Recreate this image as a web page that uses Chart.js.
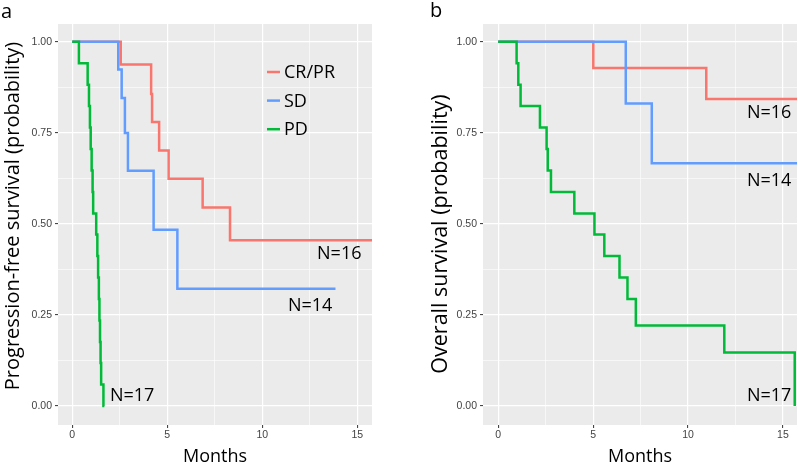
<!DOCTYPE html>
<html>
<head>
<meta charset="utf-8">
<script src="https://cdn.jsdelivr.net/npm/chart.js@4.4.1/dist/chart.umd.min.js"></script>
<style>
  html, body { margin: 0; padding: 0; background: #fff; }
  #wrap { position: relative; width: 798px; height: 464px; }
  .panel { position: absolute; top: 0; height: 464px; }
  #panel-a { left: 0; width: 400px; }
  #panel-b { left: 400px; width: 398px; }
</style>
</head>
<body>
<div id="wrap">
  <div class="panel" id="panel-a"><canvas id="chart-a"></canvas></div>
  <div class="panel" id="panel-b"><canvas id="chart-b"></canvas></div>
</div>
<script>
const GROUPS = ['CR/PR', 'SD', 'PD'];
const GROUP_SIZES = [16, 14, 17];
const X_TICKS = [0, 5, 10, 15];
const Y_TICKS = [0, 0.25, 0.5, 0.75, 1];

// panel a: progression-free survival, months / survival probability
const PFS_CRPR_MONTHS = [0, 2.55, 4.15, 4.2, 4.57, 5.07, 6.86, 8.3, 15.8];
const PFS_CRPR_SURV = [1, 0.9375, 0.857, 0.78, 0.702, 0.624, 0.545, 0.455, 0.455];
const PFS_SD_MONTHS = [0, 2.42, 2.6, 2.77, 2.93, 4.28, 5.53, 13.85];
const PFS_SD_SURV = [1, 0.924, 0.846, 0.75, 0.646, 0.484, 0.322, 0.322];
const PFS_PD_MONTHS = [0, 0.35, 0.81, 0.88, 0.93, 0.97, 1.02, 1.07, 1.1, 1.26, 1.32, 1.36, 1.4, 1.43, 1.46, 1.49, 1.52, 1.64, 1.69];
const PFS_PD_SURV = [1, 0.941, 0.882, 0.824, 0.765, 0.706, 0.647, 0.588, 0.529, 0.471, 0.412, 0.353, 0.294, 0.235, 0.176, 0.118, 0.059, 0, 0];

// panel b: overall survival
const OS_CRPR_MONTHS = [0, 5.01, 10.96, 15.8];
const OS_CRPR_SURV = [1, 0.928, 0.843, 0.843];
const OS_SD_MONTHS = [0, 6.72, 8.09, 15.8];
const OS_SD_SURV = [1, 0.831, 0.667, 0.667];
const OS_PD_MONTHS = [0, 0.97, 1.06, 1.18, 2.2, 2.55, 2.61, 2.78, 4.01, 5.07, 5.59, 6.39, 6.81, 7.25, 11.91, 15.62];
const OS_PD_SURV = [1, 0.941, 0.882, 0.824, 0.765, 0.706, 0.647, 0.588, 0.529, 0.471, 0.412, 0.353, 0.294, 0.221, 0.147, 0];

const COLORS = ['#F8766D', '#619CFF', '#00BA38'];

const toPoints = (months, surv) => months.map((m, i) => ({ x: m, y: surv[i] }));

// major ticks plus the minor ones half way between them
const withMinor = (major) => {
  const out = [];
  major.forEach((v, i) => {
    out.push(v);
    if (i < major.length - 1) out.push((v + major[i + 1]) / 2);
  });
  return out;
};

const isMajor = (list, v) => list.some(m => Math.abs(m - v) < 1e-9);

const panelBackground = {
  id: 'panelBackground',
  beforeDraw(chart) {
    const { ctx, chartArea: a } = chart;
    ctx.save();
    ctx.fillStyle = '#EBEBEB';
    ctx.fillRect(a.left, a.top, a.right - a.left, a.bottom - a.top);
    ctx.restore();
  }
};

const textLayer = {
  id: 'textLayer',
  afterDatasetsDraw(chart, args, opts) {
    const { ctx, chartArea, scales: { x, y } } = chart;
    ctx.save();
    ctx.fillStyle = '#000';

    ctx.font = '20px "Open Sans"';
    ctx.textAlign = 'left';
    ctx.textBaseline = 'alphabetic';
    ctx.fillText(opts.letter, opts.letterPos[0], opts.letterPos[1]);

    ctx.save();
    ctx.translate(opts.titlePos[0], opts.titlePos[1]);
    ctx.rotate(-Math.PI / 2);
    ctx.textAlign = 'center';
    ctx.textBaseline = 'middle';
    ctx.font = opts.titleSize + 'px "Open Sans"';
    ctx.fillText(opts.title, 0, 0);
    ctx.restore();

    ctx.font = '18px "Open Sans"';
    ctx.textAlign = 'left';
    ctx.textBaseline = 'middle';
    opts.nLabels.forEach((l, i) => {
      ctx.fillText('N=' + GROUP_SIZES[i], x.getPixelForValue(l[0]), y.getPixelForValue(l[1]));
    });

    if (opts.legend) {
      GROUPS.forEach((g, i) => {
        const ly = chartArea.top + 48 + i * 28.6;
        ctx.strokeStyle = COLORS[i];
        ctx.lineWidth = 2.5;
        ctx.beginPath();
        ctx.moveTo(chartArea.left + 209, ly);
        ctx.lineTo(chartArea.left + 222, ly);
        ctx.stroke();
        ctx.fillText(g, chartArea.left + 226, ly + 1);
      });
    }
    ctx.restore();
  }
};

const makeChart = (canvasId, series, xRange, axisWidth, padRight, text) => {
  const datasets = series.map((s, i) => ({
    label: GROUPS[i],
    data: toPoints(s[0], s[1]),
    borderColor: COLORS[i],
    borderWidth: 2.5,
    pointRadius: 0,
    stepped: 'before',
    fill: false,
    order: 2 - i
  }));
  const gridOpts = (major) => ({
    color: '#FFFFFF',
    lineWidth: (c) => isMajor(major, c.tick.value) ? 1.2 : 0.6,
    tickColor: (c) => isMajor(major, c.tick.value) ? '#333333' : 'rgba(0,0,0,0)',
    tickWidth: 1,
    tickLength: 3,
    drawTicks: true
  });
  return new Chart(document.getElementById(canvasId), {
    type: 'line',
    data: { datasets },
    options: {
      animation: false,
      responsive: true,
      maintainAspectRatio: false,
      layout: { padding: { top: 24, right: padRight, left: 0, bottom: 0 } },
      scales: {
        x: {
          type: 'linear',
          min: xRange[0],
          max: xRange[1],
          afterBuildTicks: (scale) => { scale.ticks = withMinor(X_TICKS).map(v => ({ value: v })); },
          afterFit: (scale) => { scale.height = 39; },
          border: { display: false },
          grid: gridOpts(X_TICKS),
          ticks: {
            autoSkip: false,
            maxRotation: 0,
            padding: 1,
            color: '#444444',
            font: { family: 'Liberation Sans', size: 10.5 },
            callback: (v) => isMajor(X_TICKS, v) ? String(v) : ''
          },
          title: {
            display: true,
            text: 'Months',
            color: '#000',
            font: { family: 'Open Sans', size: 18, lineHeight: 0.8 },
            padding: { top: 0, bottom: 0 }
          }
        },
        y: {
          type: 'linear',
          min: -0.052,
          max: 1.049,
          afterBuildTicks: (scale) => { scale.ticks = withMinor(Y_TICKS).map(v => ({ value: v })); },
          afterFit: (scale) => { scale.width = axisWidth; },
          border: { display: false },
          grid: gridOpts(Y_TICKS),
          ticks: {
            autoSkip: false,
            padding: 3,
            color: '#444444',
            font: { family: 'Liberation Sans', size: 10.5 },
            callback: (v) => isMajor(Y_TICKS, v) ? v.toFixed(2) : ''
          }
        }
      },
      plugins: {
        legend: { display: false },
        tooltip: { enabled: false },
        textLayer: text
      }
    },
    plugins: [panelBackground, textLayer]
  });
};

makeChart('chart-a',
  [[PFS_CRPR_MONTHS, PFS_CRPR_SURV], [PFS_SD_MONTHS, PFS_SD_SURV], [PFS_PD_MONTHS, PFS_PD_SURV]],
  [-0.75, 15.77], 58, 28,
  {
    letter: 'a', letterPos: [1, 18],
    title: 'Progression-free survival (probability)', titlePos: [13, 216], titleSize: 20,
    nLabels: [[12.88, 0.417], [11.35, 0.275], [1.98, 0.029]],
    legend: true
  });

makeChart('chart-b',
  [[OS_CRPR_MONTHS, OS_CRPR_SURV], [OS_SD_MONTHS, OS_SD_SURV], [OS_PD_MONTHS, OS_PD_SURV]],
  [-0.8, 15.74], 83, 1,
  {
    letter: 'b', letterPos: [30, 17],
    title: 'Overall survival (probability)', titlePos: [41, 234], titleSize: 21.5,
    nLabels: [[13.1, 0.806], [13.1, 0.617], [13.1, 0.029]],
    legend: false
  });
</script>
</body>
</html>
